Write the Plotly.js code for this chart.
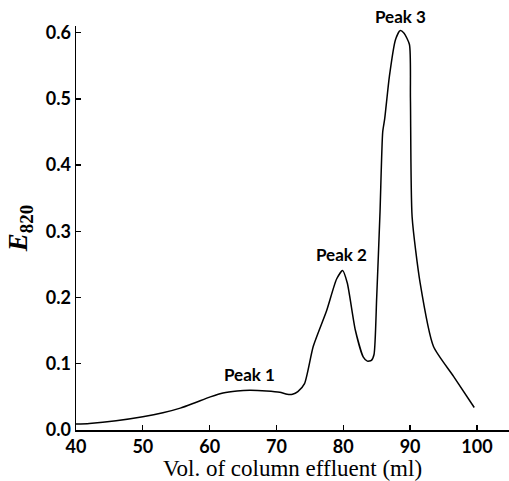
<!DOCTYPE html>
<html>
<head>
<meta charset="utf-8">
<script src="https://cdn.plot.ly/plotly-3.0.1.min.js"></script>
<style>html,body{margin:0;padding:0;background:#fff;}#chart{width:509px;height:481px;}</style>
</head>
<body>
<div id="chart"></div>
<script>
// Volume of column effluent (ml)
const volume = [40, 42, 46, 50, 53, 55.6, 58, 60.1, 62, 64.1, 66, 68.5, 70.5, 71.6, 72.4, 73.2, 74.2, 75.5, 77.5, 79.0, 79.9, 80.6, 81.8, 83.0, 83.6, 84.2, 84.6, 85.0, 85.5, 85.9, 86.2, 86.9, 87.8, 88.5, 89.1, 89.9, 90.05, 90.3, 91.5, 93.5, 96.5, 99.6];
// Extinction at 820 nm
const extinction = [0.009, 0.010, 0.014, 0.020, 0.026, 0.033, 0.042, 0.050, 0.056, 0.059, 0.060, 0.059, 0.057, 0.054, 0.054, 0.058, 0.070, 0.126, 0.180, 0.228, 0.241, 0.222, 0.151, 0.110, 0.104, 0.105, 0.114, 0.200, 0.330, 0.450, 0.470, 0.534, 0.589, 0.603, 0.599, 0.582, 0.500, 0.322, 0.222, 0.126, 0.081, 0.034];

const peakLabels = ["Peak 1", "Peak 2", "Peak 3"];
const peakX = [66, 79.8, 88.5];
const peakY = [0.060, 0.241, 0.603];

const xTicks = [40, 50, 60, 70, 80, 90, 100];
const yTicks = [0.0, 0.1, 0.2, 0.3, 0.4, 0.5, 0.6];

const tickFont = {family: "Lato, 'DejaVu Sans', sans-serif", size: 18, color: "#000", weight: "bold"};

const trace = {
  x: volume, y: extinction, type: "scatter", mode: "lines",
  line: {color: "#000", width: 1.5, shape: "spline", smoothing: 0.6},
  hoverinfo: "skip", showlegend: false
};

const annotations = peakLabels.map((t, i) => ({
  x: peakX[i], y: peakY[i], xref: "x", yref: "y", text: t,
  showarrow: false, yanchor: "bottom", yshift: i === 2 ? 2 : 3,
  font: {family: "Lato, 'DejaVu Sans', sans-serif", size: 17, color: "#000", weight: "bold"}
}));

const layout = {
  width: 509, height: 481,
  margin: {l: 76, r: 0, t: 26, b: 51},
  paper_bgcolor: "#fff", plot_bgcolor: "#fff",
  showlegend: false,
  xaxis: {
    range: [40, 104.8], tickvals: xTicks, ticktext: xTicks.map(String),
    ticks: "inside", ticklen: 5, tickwidth: 1.3, tickcolor: "#000",
    showline: true, linecolor: "#000", linewidth: 1.5, showgrid: false, zeroline: false,
    tickfont: tickFont,
    title: {text: "Vol. of column effluent (ml)", font: {family: "'Liberation Serif', 'DejaVu Serif', serif", size: 23, color: "#000"}, standoff: 2}
  },
  yaxis: {
    range: [0, 0.61], tickvals: yTicks, ticktext: yTicks.map(v => v.toFixed(1)),
    ticks: "inside", ticklen: 5, tickwidth: 1.3, tickcolor: "#000",
    showline: true, linecolor: "#000", linewidth: 1.5, showgrid: false, zeroline: false,
    tickfont: tickFont,
    title: {text: "<i>E</i><sub>820</sub>", font: {family: "'Liberation Serif', 'DejaVu Serif', serif", size: 27, color: "#000", weight: "bold"}, standoff: 10}
  },
  annotations: annotations
};

Plotly.newPlot("chart", [trace], layout, {displayModeBar: false, staticPlot: true});
</script>
</body>
</html>
